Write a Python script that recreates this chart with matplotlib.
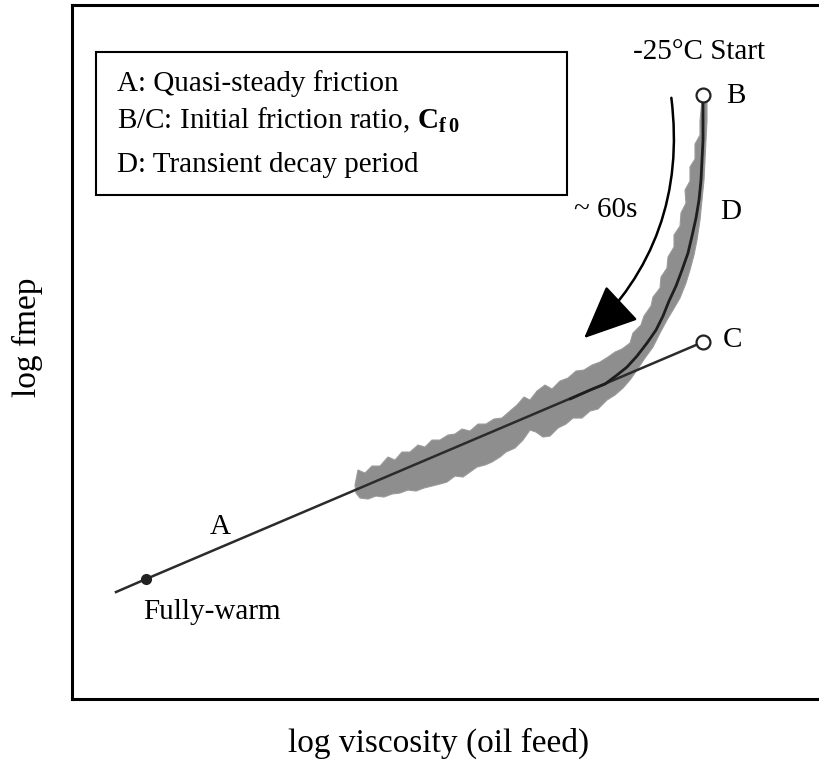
import matplotlib
matplotlib.use("Agg")
import matplotlib.pyplot as plt
from matplotlib.patches import FancyArrowPatch, Rectangle

plt.rcParams["font.family"] = ["Liberation Serif", "DejaVu Serif"]
plt.rcParams["mathtext.fontset"] = "custom"
plt.rcParams["mathtext.rm"] = "Liberation Serif"
plt.rcParams["mathtext.bf"] = "Liberation Serif:bold"

# quasi-steady friction line A (fully-warm point -> C)
line_x = [4.4, 7.4, 63.1]
line_y = [10.7, 12.0, 35.7]
warm_x, warm_y = 7.4, 12.0
c_x, c_y = 63.1, 35.7
b_x, b_y = 63.1, 60.4

# fitted transient curve D (leaves line A and rises to B)
curve_x = [49.8, 51.8, 53.3, 54.5, 55.5, 56.5, 57.5, 58.4, 59.1, 59.7,
           60.4, 61.0, 61.6, 62.0, 62.4, 62.7, 62.9, 63.0, 63.1, 63.1, 63.1]
curve_y = [30.0, 30.9, 31.5, 32.4, 33.2, 34.3, 35.6, 36.9, 38.3, 39.8,
           41.3, 42.9, 44.6, 46.3, 48.1, 49.9, 51.9, 53.9, 55.9, 57.9, 60.0]

# measured data band (outline traced: upper edge up to B, then lower edge back)
band_x = [28.3, 28.6, 29.3, 30.0, 30.8, 31.6, 32.3, 33.0, 33.8, 34.6, 35.3,
          36.0, 36.8, 37.6, 38.3, 39.0, 39.8, 40.6, 41.4, 42.2, 43.0, 43.8,
          44.5, 45.2, 45.8, 46.5, 47.3, 48.0, 48.8, 49.6, 50.4, 51.2, 52.0,
          52.8, 53.6, 54.3, 55.0, 55.8,
          56.1, 56.9, 57.2, 57.9, 58.1, 58.8, 58.9, 59.5, 59.6, 60.2, 60.2,
          60.8, 60.9, 61.4, 61.3, 61.8, 61.8, 62.3, 62.3, 62.8, 62.8, 63.0,
          63.5, 63.5, 63.4, 63.3, 63.2, 63.0, 62.8, 62.5, 62.2, 61.8, 61.4,
          60.8, 60.1, 59.5, 58.8, 58.1, 57.3, 56.5, 55.8, 55.1, 54.3, 53.5,
          52.6, 51.8, 51.0, 50.1, 49.4, 48.6, 47.8, 47.1, 46.4, 45.8, 45.1,
          44.3, 43.4, 42.8, 42.0, 41.3, 40.5, 39.8, 39.1, 38.3, 37.5, 36.8,
          36.0, 35.2, 34.4, 33.6, 32.8, 32.0, 31.2, 30.4, 29.6, 28.8, 28.4]
band_y = [21.4, 22.9, 22.6, 23.3, 23.3, 24.2, 23.9, 24.7, 24.7, 25.4, 25.2,
          25.9, 25.9, 26.4, 26.5, 27.0, 26.8, 27.5, 27.5, 28.0, 28.1, 28.8,
          29.4, 30.2, 29.9, 30.8, 31.4, 31.0, 31.8, 32.1, 32.8, 32.9, 33.4,
          33.7, 34.2, 34.7, 35.0, 35.6,
          36.6, 37.4, 38.3, 39.3, 40.2, 41.1, 42.2, 43.1, 44.2, 45.2, 46.4,
          47.3, 48.6, 49.6, 50.9, 51.8, 53.2, 54.0, 55.5, 56.4, 57.8, 59.9,
          59.9, 57.9, 55.9, 53.9, 51.9, 49.9, 47.9, 45.9, 44.4, 42.9, 41.6,
          40.1, 38.9, 37.9, 36.6, 35.2, 34.1, 32.9, 31.9, 31.1, 30.4, 29.9,
          29.0, 28.8, 28.1, 28.1, 27.5, 27.1, 26.3, 26.2, 26.7, 26.9, 25.9,
          25.1, 24.7, 24.2, 23.7, 23.4, 23.2, 22.7, 22.2, 22.3, 21.7, 21.5,
          21.3, 21.1, 20.8, 20.9, 20.6, 20.5, 20.2, 20.3, 20.0, 20.1, 20.6]

# ~60s arrow: start and tip
arrow_start = (59.9, 60.4)
arrow_tip = (51.0, 35.9)

legend_lines = [
    "A: Quasi-steady friction",
    r"B/C: Initial friction ratio, $\mathbf{C}_{\mathbf{f\,0}}$",
    "D: Transient decay period",
]

fig = plt.figure(figsize=(8.19, 7.78), dpi=100)
ax = fig.add_axes([0.0879, 0.1015, 0.9121, 0.892])
ax.set_xlim(0, 74.7)
ax.set_ylim(0, 69.4)
ax.set_xticks([])
ax.set_yticks([])
for side in ["left", "bottom", "top"]:
    ax.spines[side].set_linewidth(2.2)
ax.spines["right"].set_visible(False)

# data band and fits
ax.fill(band_x, band_y, color="#8e8e8e", lw=0.8, ec="#9a9a9a",
        joinstyle="round", zorder=1)
ax.plot(line_x, line_y, color="#2b2b2b", lw=1.8, zorder=2)
ax.plot(curve_x, curve_y, color="#1e1e1e", lw=2.0, zorder=3,
        solid_joinstyle="round", solid_capstyle="round")
ax.plot([warm_x], [warm_y], "o", color="#222222", ms=7, zorder=4)
ax.plot([c_x, b_x], [c_y, b_y], "o", mfc="white", mec="#222222",
        mew=1.6, ms=10, zorder=4)

arrow = FancyArrowPatch(arrow_start, arrow_tip,
                        connectionstyle="arc3,rad=-0.26",
                        arrowstyle="-|>,head_length=1.7,head_width=0.75",
                        mutation_scale=20, color="black", lw=1.8, zorder=5)
ax.add_patch(arrow)

fs = 21
ax.text(14.8, 17.2, "A", fontsize=fs, ha="center", va="center")
ax.text(7.1, 8.7, "Fully-warm", fontsize=fs, ha="left", va="center")
ax.text(65.4, 60.3, "B", fontsize=fs, ha="left", va="center")
ax.text(65.1, 35.9, "C", fontsize=fs, ha="left", va="center")
ax.text(64.8, 48.7, "D", fontsize=fs, ha="left", va="center")
ax.text(53.4, 48.9, "~ 60s", fontsize=fs, ha="center", va="center")
ax.text(62.7, 64.7, "-25°C Start", fontsize=fs, ha="center", va="center")

# key box
ax.add_patch(Rectangle((0.032, 0.726), 0.631, 0.206, transform=ax.transAxes,
                       fill=False, lw=1.5, ec="black", zorder=6))
for txt, yy in zip(legend_lines, [61.6, 57.9, 53.4]):
    ax.text(4.5, yy, txt, fontsize=fs, ha="left", va="center", zorder=7)

fig.text(0.535, 0.045, "log viscosity (oil feed)", fontsize=24,
         ha="center", va="center")
fig.text(0.033, 0.567, "log fmep", fontsize=24, rotation=90,
         ha="center", va="center")

fig.savefig("out.png", dpi=100)
